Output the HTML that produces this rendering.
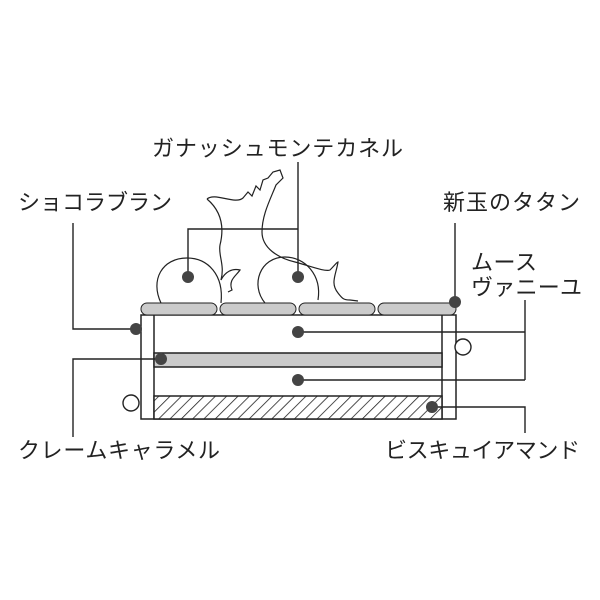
<!DOCTYPE html>
<html><head><meta charset="utf-8"><style>
body{margin:0;background:#fff}
svg{display:block}
text{font-family:"Liberation Sans","Noto Sans CJK JP",sans-serif;font-size:22px;fill:#222}
</style></head><body>
<svg width="600" height="600" viewBox="0 0 600 600">
<defs><pattern id="h" width="8" height="8" patternUnits="userSpaceOnUse" patternTransform="rotate(45)"><rect width="8" height="8" fill="#fff"/><line x1="0" y1="0" x2="0" y2="8" stroke="#222" stroke-width="1.6"/></pattern></defs>
<g fill="none" stroke="#222" stroke-width="1.2">
<path d="M207 199 C215 192 235 205 243 198 L248 192 L252 196 L256 186 L260 190 L263 180 L268 178 L273 172 L280 170 L283 178 L276 185 C270 200 262 215 262 232 C262 248 278 258 295 262 C310 266 325 272 330 270 C335 265 337 262 338 262 C336 275 330 283 338 293 C342 298 343 300 350 300 L358 301"/>
<path d="M207 199 C220 210 225 225 220 245 C218 255 225 265 221 280"/>
<path d="M221 280 C225 272 232 268 240 270 C236 276 228 280 232 290 L228 292"/>
<path d="M161 303 C150 280 162 258 187 258 C208 258 224 275 221 303"/>
<path d="M265 303 C250 285 260 257 285 257 C305 257 322 275 318 300"/>
</g>
<g stroke="#222" stroke-width="1.5">
<rect x="141" y="315" width="315" height="104" fill="#fff"/>
<line x1="154" y1="315" x2="154" y2="419"/><line x1="442" y1="315" x2="442" y2="419"/>
<rect x="154" y="353" width="288" height="14" fill="#cbcbcb"/>
<rect x="154" y="396" width="288" height="23" fill="url(#h)"/>
<rect x="141" y="303" width="76" height="12" rx="6" fill="#cbcbcb" stroke-width="1"/>
<rect x="220" y="303" width="76" height="12" rx="6" fill="#cbcbcb" stroke-width="1"/>
<rect x="299" y="303" width="76" height="12" rx="6" fill="#cbcbcb" stroke-width="1"/>
<rect x="378" y="303" width="78" height="12" rx="6" fill="#cbcbcb" stroke-width="1"/>
</g>
<g fill="none" stroke="#222" stroke-width="1.4">
<polyline points="298,162 298,277"/><polyline points="188,277 188,229 298,229"/>
<polyline points="73,223 73,329 136,329"/>
<polyline points="161,359 73,359 73,437"/>
<polyline points="455,223 455,302"/>
<polyline points="298,332 525,332"/><polyline points="298,380 525,380"/><line x1="525" y1="300" x2="525" y2="380"/>
<polyline points="432,407 525,407 525,433"/>
<circle cx="463" cy="347" r="8" fill="#fff"/><circle cx="131" cy="403" r="8" fill="#fff"/>
</g>
<g fill="#444">
<circle cx="188" cy="277" r="6"/><circle cx="298" cy="277" r="6"/>
<circle cx="136" cy="329" r="6"/><circle cx="161" cy="359" r="6"/>
<circle cx="455" cy="302" r="6"/><circle cx="298" cy="332" r="6"/>
<circle cx="298" cy="380" r="6"/><circle cx="432" cy="407" r="6"/>
</g>
<text x="152" y="156" textLength="251">ガナッシュモンテカネル</text>
<text x="18" y="210" textLength="154">ショコラブラン</text>
<text x="443" y="210" textLength="137">新玉のタタン</text>
<text x="471" y="270" textLength="66">ムース</text>
<text x="471" y="295" textLength="111">ヴァニーユ</text>
<text x="18" y="458" textLength="202">クレームキャラメル</text>
<text x="385" y="458" textLength="195">ビスキュイアマンド</text>
</svg>
</body></html>
